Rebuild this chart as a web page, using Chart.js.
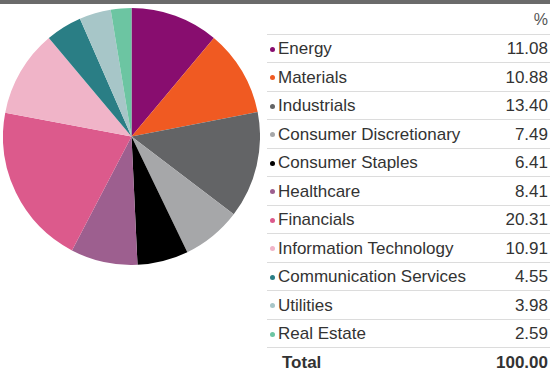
<!DOCTYPE html>
<html>
<head>
<meta charset="utf-8">
<script src="https://cdn.jsdelivr.net/npm/chart.js@4"></script>
<style>
  html, body { margin: 0; padding: 0; background: #fff; }
  body { width: 550px; height: 368px; position: relative; overflow: hidden;
         font-family: "Liberation Sans", Arial, Helvetica, sans-serif; color: #333; }
  .topbar { position: absolute; left: 0; top: 0; width: 550px; height: 4px; background: #6b6b6b; }
  .pie { position: absolute; left: 3px; top: 8px; width: 257px; height: 257px; }
  .table { position: absolute; left: 267px; top: 5px; width: 283px; }
  .row { display: flex; align-items: center; justify-content: space-between;
         height: 28.5px; padding-top: 2px; border-bottom: 1px solid #dcdcdc; box-sizing: border-box;
         font-size: 17px; }
  .row.head { height: 29.5px; justify-content: flex-end; color: #555; font-size: 16px; }
  .row.total { border-bottom: none; font-weight: bold; }
  .label { display: flex; align-items: center; }
  .dot { width: 5px; height: 5px; border-radius: 50%; margin: 0 3px 0 3px; display: inline-block; }
  .total .label { padding-left: 15px; }
  .val { padding-right: 2px; }
</style>
</head>
<body>
<div class="topbar"></div>
<div class="pie"><canvas id="c"></canvas></div>
<div class="table" id="tbl"></div>
<script>
// Sector weights of the equity portfolio, in percent
const sectors = ["Energy", "Materials", "Industrials", "Consumer Discretionary",
  "Consumer Staples", "Healthcare", "Financials", "Information Technology",
  "Communication Services", "Utilities", "Real Estate"];
const weights = [11.08, 10.88, 13.40, 7.49, 6.41, 8.41, 20.31, 10.91, 4.55, 3.98, 2.59];
const sectorColors = ["#880d6f", "#f05a22", "#636466", "#a6a7a9", "#000000",
  "#9d5f8f", "#dc5a8c", "#f0b4c8", "#2a7e85", "#a7c6c8", "#6cc5a2"];
const totalLabel = "Total";
const totalValue = "100.00";
const unitLabel = "%";

new Chart(document.getElementById("c"), {
  type: "pie",
  data: {
    labels: sectors,
    datasets: [{ data: weights, backgroundColor: sectorColors, borderWidth: 0, hoverOffset: 0 }]
  },
  options: {
    responsive: true,
    maintainAspectRatio: false,
    animation: false,
    layout: { padding: 0 },
    plugins: { legend: { display: false }, tooltip: { enabled: false } }
  }
});

// Weight table beside the pie
const tbl = document.getElementById("tbl");
const head = document.createElement("div");
head.className = "row head";
head.innerHTML = '<span class="val">' + unitLabel + '</span>';
tbl.appendChild(head);
sectors.forEach((name, i) => {
  const r = document.createElement("div");
  r.className = "row";
  r.innerHTML = '<span class="label"><span class="dot" style="background:' + sectorColors[i] +
    '"></span>' + name + '</span><span class="val">' + weights[i].toFixed(2) + '</span>';
  tbl.appendChild(r);
});
const tot = document.createElement("div");
tot.className = "row total";
tot.innerHTML = '<span class="label">' + totalLabel + '</span><span class="val">' + totalValue + '</span>';
tbl.appendChild(tot);
</script>
</body>
</html>
